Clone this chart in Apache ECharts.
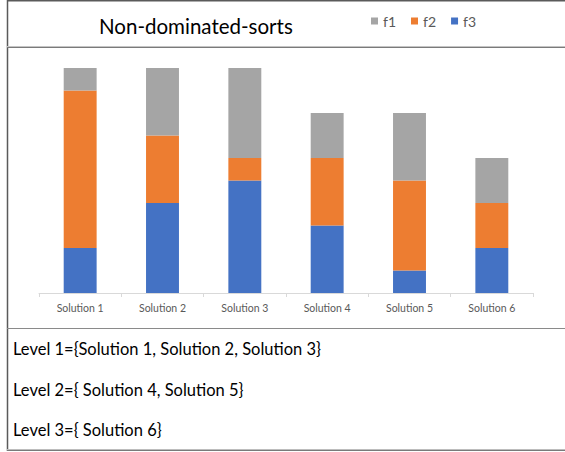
<!DOCTYPE html>
<html>
<head>
<meta charset="utf-8">
<script src="https://cdn.jsdelivr.net/npm/echarts@6/dist/echarts.min.js"></script>
<style>
  html, body { margin: 0; padding: 0; background: #fff; }
  #chart { width: 565px; height: 452px; }
</style>
</head>
<body>
<div id="chart"></div>
<script>
// Objective values per solution, stacked bottom-up as f3, f2, f1
const categories = ['Solution 1', 'Solution 2', 'Solution 3', 'Solution 4', 'Solution 5', 'Solution 6'];
const f1 = [1, 3, 4, 2, 3, 2];
const f2 = [7, 3, 1, 3, 4, 2];
const f3 = [2, 4, 5, 3, 1, 2];
const legendNames = ['f1', 'f2', 'f3'];
const levelLines = [
  'Level 1={Solution 1, Solution 2, Solution 3}',
  'Level 2={ Solution 4, Solution 5}',
  'Level 3={ Solution 6}'
];

const FONT = 'Lato, "Open Sans", sans-serif';
const chart = echarts.init(document.getElementById('chart'), null, { renderer: 'svg' });

// Frame: top edge, left edge and the rules separating title, plot and notes
const frameLines = [
  { x1: 7, y1: 0.75, x2: 565, y2: 0.75, color: '#5a5a5a', w: 1.5 },
  { x1: 7.5, y1: 0, x2: 7.5, y2: 451, color: '#5a5a5a', w: 1.5 },
  { x1: 7, y1: 46.5, x2: 565, y2: 46.5, color: '#c4c4c4', w: 1 },
  { x1: 7, y1: 47.5, x2: 565, y2: 47.5, color: '#7a7a7a', w: 1 },
  { x1: 7, y1: 328.5, x2: 565, y2: 328.5, color: '#8a8a8a', w: 1 },
  { x1: 7, y1: 449.5, x2: 565, y2: 449.5, color: '#bdbdbd', w: 1 },
  { x1: 7, y1: 450.5, x2: 565, y2: 450.5, color: '#7a7a7a', w: 1 }
];

const graphics = frameLines.map(l => ({
  type: 'line',
  silent: true,
  shape: { x1: l.x1, y1: l.y1, x2: l.x2, y2: l.y2 },
  style: { stroke: l.color, lineWidth: l.w }
}));

levelLines.forEach((t, i) => {
  graphics.push({
    type: 'text',
    left: 13,
    top: 340.5 + i * 40.5,
    style: { text: t, fontFamily: FONT, fontSize: 16.5, fill: '#000' }
  });
});

const colors = { f1: '#a5a5a5', f2: '#ed7d31', f3: '#4472c4' };

chart.setOption({
  animation: false,
  title: {
    text: 'Non-dominated-sorts',
    left: 94,
    top: 10,
    textStyle: { fontFamily: FONT, fontSize: 20.5, fontWeight: 'normal', color: '#000' }
  },
  legend: {
    data: legendNames,
    left: 366,
    top: 9,
    icon: 'rect',
    itemWidth: 7,
    itemHeight: 7,
    itemGap: 15,
    textStyle: { fontFamily: FONT, fontSize: 14, color: '#595959' }
  },
  grid: { left: 39, right: 32, top: 68, bottom: 159 },
  xAxis: {
    type: 'category',
    data: categories,
    axisLine: { lineStyle: { color: '#d9d9d9', width: 1 } },
    axisTick: { show: true, length: 4, lineStyle: { color: '#d9d9d9' } },
    axisLabel: { color: '#595959', fontFamily: FONT, fontSize: 10.5, margin: 9 }
  },
  yAxis: {
    type: 'value',
    min: 0,
    max: 10,
    show: false,
    splitLine: { show: false }
  },
  series: [
    { name: 'f3', type: 'bar', stack: 'total', barWidth: '40%', data: f3, itemStyle: { color: colors.f3 } },
    { name: 'f2', type: 'bar', stack: 'total', barWidth: '40%', data: f2, itemStyle: { color: colors.f2 } },
    { name: 'f1', type: 'bar', stack: 'total', barWidth: '40%', data: f1, itemStyle: { color: colors.f1 } }
  ],
  graphic: graphics
});
</script>
</body>
</html>
